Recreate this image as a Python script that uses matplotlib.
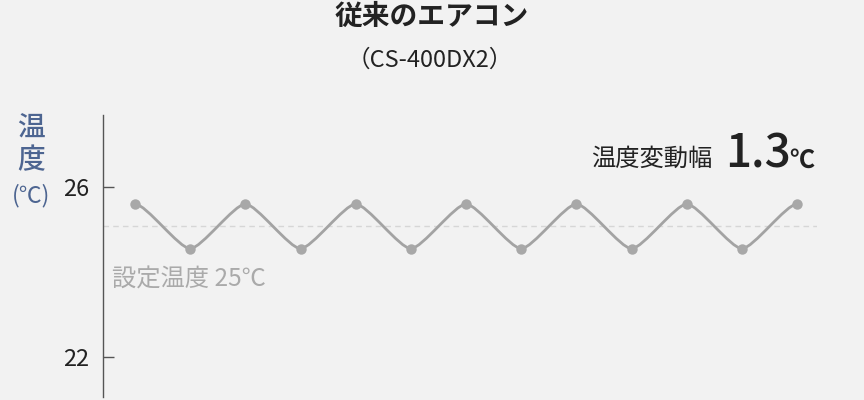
import matplotlib
matplotlib.use("Agg")
import matplotlib.pyplot as plt
from matplotlib.path import Path
from matplotlib.patches import PathPatch

plt.rcParams['font.family'] = ['Noto Sans CJK JP', 'DejaVu Sans']

# data
cycle = list(range(13))
temps = [25.6, 24.55, 25.6, 24.55, 25.6, 24.55, 25.6,
         24.55, 25.6, 24.55, 25.6, 24.55, 25.6]
set_temp = 25.08
yticks = [26, 22]
title = "従来のエアコン"
subtitle = "（CS-400DX2）"
set_label = "設定温度 25℃"
range_label = "温度変動幅"
range_value = "1.3"

W, H = 864, 400
bg = '#f2f2f2'
fig = plt.figure(figsize=(W / 100, H / 100), dpi=100, facecolor=bg)

def fx(px):
     return px / W

def fy(py):
     return 1 - py / H

ax = fig.add_axes([fx(103), fy(397), fx(817 - 103), (397 - 115) / H])
ax.set_facecolor(bg)
ax.set_xlim(-0.58, 12.36)
ax.set_ylim(21.06, 27.694)

for s in ['top', 'right', 'bottom']:
     ax.spines[s].set_visible(False)
ax.spines['left'].set_color('#555555')
ax.spines['left'].set_linewidth(1.0)
ax.set_xticks([])
ax.set_yticks(yticks)
ax.tick_params(axis='y', direction='in', length=8, width=1.0, color='#555555',
               pad=10, labelsize=17, labelcolor='#222222')

# set point
ax.axhline(set_temp, color='#d6d6d6', lw=1.0, ls=(0, (4, 3)), zorder=1)

# smooth wave through the points (horizontal tangents at each point)
k = 0.2
verts = [(cycle[0], temps[0])]
codes = [Path.MOVETO]
for i in range(1, len(cycle)):
     x0, y0 = cycle[i - 1], temps[i - 1]
     x1, y1 = cycle[i], temps[i]
     dx = x1 - x0
     verts += [(x0 + k * dx, y0), (x1 - k * dx, y1), (x1, y1)]
     codes += [Path.CURVE4] * 3
ax.add_patch(PathPatch(Path(verts, codes), facecolor='none', edgecolor='#a3a3a3',
                       lw=2.0, zorder=2))
ax.plot(cycle, temps, 'o', color='#a8a8a8', ms=7.5, mec='none', zorder=3)

# texts
fig.text(fx(432), fy(17), title, ha='center', va='center', fontsize=20,
         fontweight='bold', color='#222222')
fig.text(fx(430), fy(60), subtitle, ha='center', va='center', fontsize=17,
         color='#222222')

ylab_color = '#4d6591'
fig.text(fx(31), fy(144), "温\n度", ha='center', va='center', fontsize=20,
         fontweight='medium', color=ylab_color, linespacing=1.1)
fig.text(fx(31), fy(196), "(℃)", ha='center', va='center', fontsize=16.5,
         color=ylab_color)

fig.text(fx(112), fy(287), set_label, ha='left', va='baseline', fontsize=17.5,
         color='#aaaaaa')

fig.text(fx(712), fy(166), range_label, ha='right', va='baseline', fontsize=17.5,
         color='#222222')
fig.text(fx(725), fy(168), range_value, ha='left', va='baseline', fontsize=33,
         fontweight='medium', color='#222222')
fig.text(fx(789), fy(168), "℃", ha='left', va='baseline', fontsize=18,
         fontweight='bold', color='#222222')

fig.savefig("out.png", dpi=100, facecolor=bg)
